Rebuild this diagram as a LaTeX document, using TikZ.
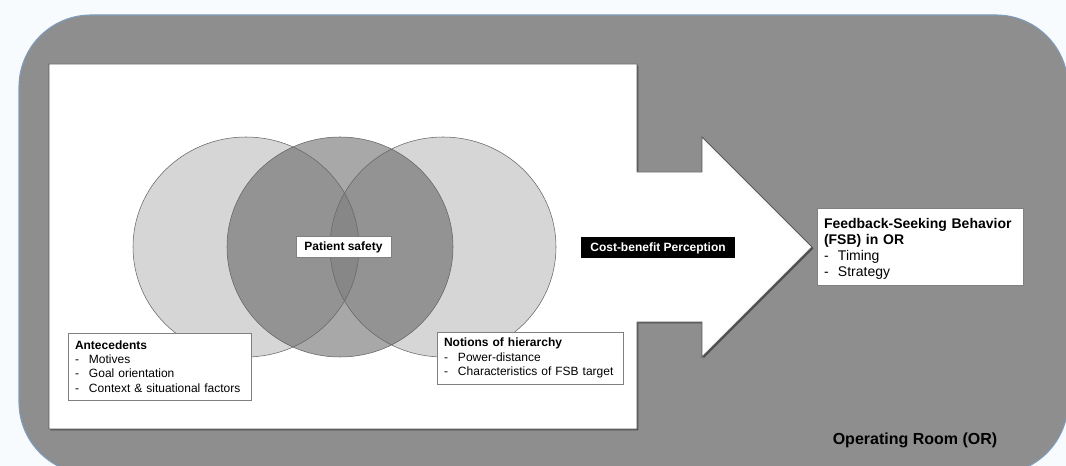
\documentclass[tikz,border=0pt]{standalone}
\usepackage{fontspec}
\setmainfont{Liberation Sans}
\usetikzlibrary{shadows}

\definecolor{pagebg}{HTML}{F7FBFE}
\definecolor{roomgray}{HTML}{8E8E8E}
\definecolor{roomedge}{HTML}{7F9CBC}
\definecolor{lightset}{HTML}{D6D6D6}
\definecolor{midset}{HTML}{A8A8A8}
\definecolor{pairset}{HTML}{939393}
\definecolor{tripleset}{HTML}{878787}

\newcommand{\dashline}[1]{\makebox[10.5pt][l]{-}#1}

\tikzset{
  setsize/.style={x radius=84.75pt, y radius=82.5pt},
  setcircle/.style={draw=black!60, line width=0.4pt},
  infobox/.style={draw=black!50, fill=white, align=left, inner xsep=5.25pt, inner ysep=0pt,
    drop shadow={shadow xshift=0.6pt, shadow yshift=-0.6pt, opacity=0.4}},
  smalltext/.style={font=\fontsize{9}{10.75}\selectfont},
  labeltext/.style={font=\bfseries\fontsize{9}{10.75}\selectfont, inner sep=0pt,
    minimum height=15.75pt, text height=6.6pt, text depth=1.2pt}
}

\begin{document}
\begin{tikzpicture}[x=0.75pt,y=-0.75pt]
\useasboundingbox (0,0) rectangle (1066,466);
\clip (0,0) rectangle (1066,466);
\fill[pagebg] (0,0) rectangle (1066,466);

% Operating room (fondo gris redondeado)
\filldraw[fill=roomgray, draw=roomedge, line width=0.8pt, rounded corners=54pt] (19,15) rectangle (1068,474);

% Panel blanco con la flecha
\filldraw[fill=white, draw=black!65, line width=0.6pt,
  drop shadow={shadow xshift=1.1pt, shadow yshift=-1.1pt, fill=black, opacity=0.45}]
  (49,64) -- (637,64) -- (637,172) -- (702,172) -- (702,137) -- (812,247)
  -- (702,357) -- (702,322) -- (637,322) -- (637,429) -- (49,429) -- cycle;

% Tres conjuntos
\coordinate (antc) at (246,247);
\coordinate (safe) at (340,247);
\coordinate (hier) at (443,247);
\fill[lightset, setsize] (antc) circle;
\fill[lightset, setsize] (hier) circle;
\fill[midset, setsize] (safe) circle;
\begin{scope}
  \clip[setsize] (safe) circle;
  \fill[pairset, setsize] (antc) circle;
  \fill[pairset, setsize] (hier) circle;
  \clip[setsize] (antc) circle;
  \fill[tripleset, setsize] (hier) circle;
\end{scope}
\draw[setcircle, setsize] (antc) circle;
\draw[setcircle, setsize] (safe) circle;
\draw[setcircle, setsize] (hier) circle;

% Etiquetas
\node[infobox, labeltext, align=center, minimum width=71.25pt] (safety) at (343.5,246.5) {Patient safety};
\node[labeltext, fill=black, text=white, minimum width=115.5pt] (cost) at (658,247.5) {Cost-benefit Perception};

\node[infobox, smalltext, text width=126.75pt, minimum height=50.25pt] (antbox) at (159.5,366.5)
  {\textbf{Antecedents}\\\dashline{Motives}\\\dashline{Goal orientation}\\\dashline{Context \& situational factors}};
\node[infobox, smalltext, text width=129pt, minimum height=39pt] (hierbox) at (530,358)
  {\textbf{Notions of hierarchy}\\\dashline{Power-distance}\\\dashline{Characteristics of FSB target}};

\node[infobox, font=\fontsize{10.5}{12}\selectfont, text width=144pt, minimum height=57.75pt] (fsb) at (920,246.5)
  {\rule{0pt}{10.7pt}\textbf{Feedback-Seeking Behavior}\\\textbf{(FSB) in OR}\\\dashline{Timing}\\\dashline{Strategy}};

\node[font=\bfseries\fontsize{12}{14}\selectfont] (room) at (915,440) {Operating Room (OR)};
\end{tikzpicture}
\end{document}
